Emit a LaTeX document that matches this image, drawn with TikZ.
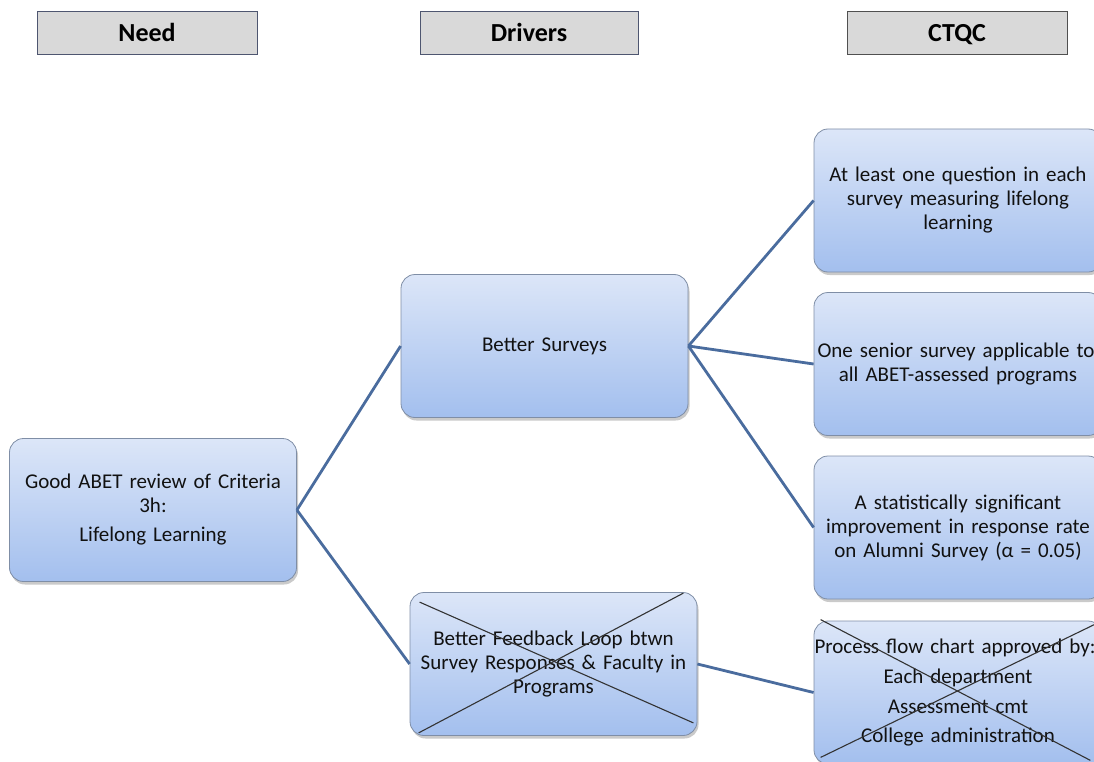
\documentclass[tikz,border=0pt]{standalone}
\usepackage{fontspec}
\setmainfont[WordSpace=0.75]{Carlito}
\usetikzlibrary{shadows,calc}
\definecolor{boxtop}{HTML}{DCE6F8}
\definecolor{boxbot}{HTML}{A3BFEE}
\definecolor{boxedge}{HTML}{7F8EA6}
\definecolor{conn}{HTML}{4A6C9E}
\definecolor{hdrfill}{HTML}{D9D9D9}
\definecolor{hdredge}{HTML}{4E5670}
\definecolor{hdredgeb}{HTML}{505050}
\definecolor{txt}{HTML}{111111}
\begin{document}
\begin{tikzpicture}[x=1pt,y=-1pt,
  box/.style={rectangle, rounded corners=14pt, draw=boxedge, line width=0.8pt,
    top color=boxtop, bottom color=boxbot, minimum width=287pt, minimum height=143pt,
    inner sep=0pt, text width=287pt, align=center, font=\fontsize{21}{24}\selectfont, text=txt,
    drop shadow={shadow xshift=1.5pt, shadow yshift=-3pt, opacity=0.35, fill=black!60}},
  hdr/.style={rectangle, draw=hdredge, line width=1pt, fill=hdrfill, minimum width=220pt,
    minimum height=43pt, inner sep=0pt, text height=20pt, text depth=3pt,
    font=\fontsize{26}{30}\selectfont\bfseries, text=black},
  link/.style={draw=conn, line width=2.8pt},
  strike/.style={draw=black!80, line width=1.1pt}]
\useasboundingbox (0,0) rectangle (1094,762);
\begin{scope}
\clip (0,0) rectangle (1094,762);
% headers
\node[hdr] (hneed) at (147,33.5) {Need};
\node[hdr, minimum width=218pt] (hdrv) at (529,33.5) {Drivers};
\node[hdr, draw=hdredgeb] (hctqc) at (957,33.5) {CTQC};
% boxes
\node[box] (need) at (153,510) {Good ABET review of Criteria\\3h:\\[5pt]Lifelong Learning};
\node[box] (bs) at (544.5,346) {Better Surveys};
\node[box] (fb) at (553.5,664) {Better Feedback Loop btwn\\Survey Responses \& Faculty in\\Programs};
\node[box, minimum width=288pt, text width=288pt] (c1) at (958,200.5) {At least one question in each\\survey measuring lifelong\\learning};
\node[box, minimum width=288pt, text width=288pt] (c2) at (958,364) {\hspace*{-4pt}One senior survey applicable to\\all ABET-assessed programs};
\node[box, minimum width=288pt, text width=288pt] (c3) at (958,527.5) {A statistically significant\\improvement in response rate\\on Alumni Survey (α = 0.05)};
\node[box, minimum width=288pt, text width=288pt] (c4) at (958,692.5) {\hspace*{-6pt}Process flow chart approved by:\\[6pt]Each department\\[6pt]Assessment cmt\\[5pt]College administration};
% connectors
\draw[link] (need.east) -- (bs.west);
\draw[link] (need.east) -- (fb.west);
\draw[link] (bs.east) -- (c1.west);
\draw[link] (bs.east) -- (c2.west);
\draw[link] (bs.east) -- (c3.west);
\draw[link] (fb.east) -- (c4.west);
% strike-through crosses
\draw[strike] ($(fb.north west)+(10,10)$) -- ($(fb.south east)+(-4,-13)$);
\draw[strike] ($(fb.north east)+(-14,1)$) -- ($(fb.south west)+(9,-3)$);
\draw[strike] ($(c4.north west)+(7,-1)$) -- ($(c4.south east)+(-12,-4)$);
\draw[strike] ($(c4.north east)+(-4,2)$) -- ($(c4.south west)+(7,-7)$);
\end{scope}
\end{tikzpicture}
\end{document}
